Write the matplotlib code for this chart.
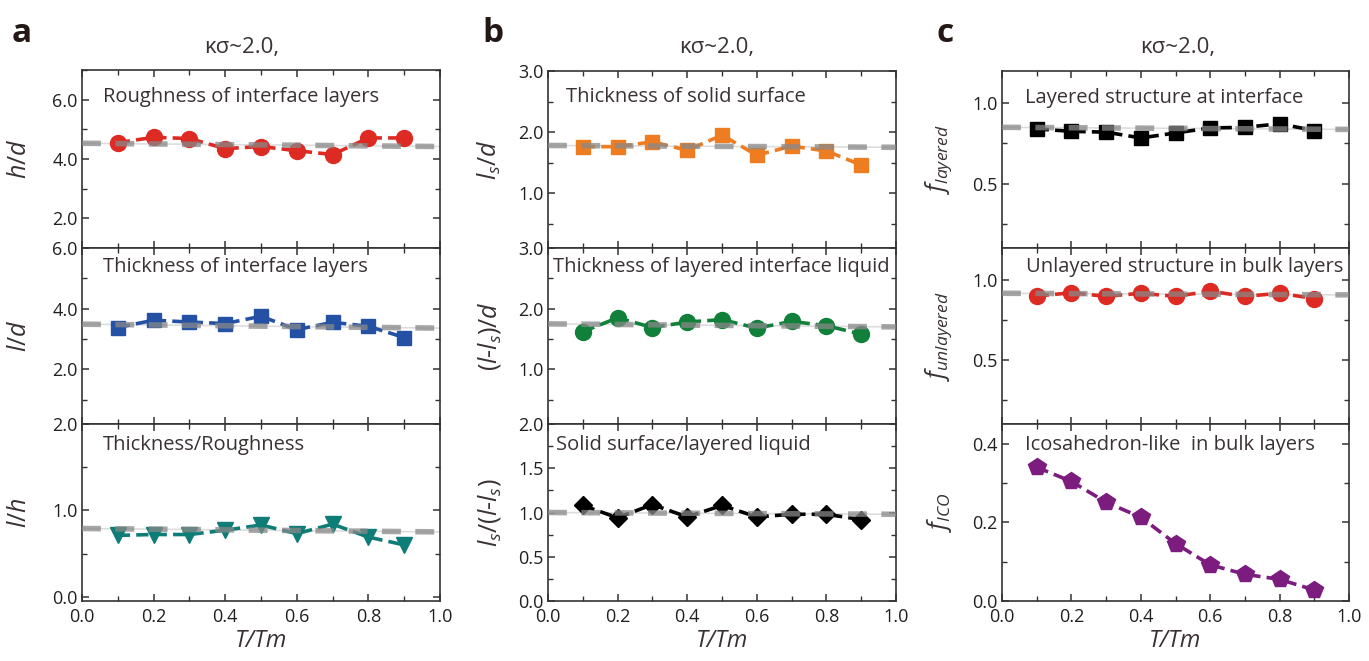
import matplotlib
matplotlib.use("Agg")
import matplotlib.pyplot as plt
from matplotlib.ticker import MultipleLocator, FormatStrFormatter

plt.rcParams['font.family'] = ['Open Sans', 'DejaVu Sans']
plt.rcParams['mathtext.fontset'] = 'custom'
plt.rcParams['mathtext.it'] = 'Open Sans:italic'
plt.rcParams['mathtext.rm'] = 'Open Sans'
plt.rcParams['mathtext.sf'] = 'Open Sans'

# reduced temperature T/Tm
t_ratio = [0.1, 0.2, 0.3, 0.4, 0.5, 0.6, 0.7, 0.8, 0.9]

# column a
h_d = [4.55, 4.73, 4.69, 4.35, 4.42, 4.28, 4.15, 4.71, 4.71]
l_d = [3.38, 3.62, 3.56, 3.51, 3.75, 3.31, 3.55, 3.42, 3.05]
l_h = [0.71, 0.72, 0.72, 0.77, 0.83, 0.73, 0.84, 0.69, 0.60]
# column b
ls_d = [1.76, 1.76, 1.84, 1.70, 1.95, 1.62, 1.77, 1.69, 1.46]
lls_d = [1.62, 1.85, 1.69, 1.78, 1.82, 1.68, 1.79, 1.72, 1.58]
ls_lls = [1.08, 0.94, 1.09, 0.95, 1.08, 0.95, 0.98, 0.98, 0.92]
# column c
f_layered = [0.84, 0.825, 0.82, 0.784, 0.815, 0.846, 0.85, 0.872, 0.83]
f_unlayered = [0.90, 0.92, 0.898, 0.917, 0.898, 0.93, 0.898, 0.917, 0.884]
f_ico = [0.34, 0.304, 0.251, 0.213, 0.146, 0.092, 0.068, 0.055, 0.028]

# linear trend lines, value at T/Tm = 0 and T/Tm = 1
fit_x = [0.0, 1.0]
fit_h_d = [4.53, 4.42]
fit_l_d = [3.49, 3.36]
fit_l_h = [0.79, 0.75]
fit_ls_d = [1.78, 1.75]
fit_lls_d = [1.75, 1.70]
fit_ls_lls = [1.00, 0.98]
fit_layered = [0.85, 0.837]
fit_unlayered = [0.917, 0.907]

TXT = '#3a3232'
W, H = 1369, 661

fig = plt.figure(figsize=(W / 100, H / 100), dpi=100)


def px_axes(x0, x1, y0, y1):
    # axes from pixel box (top-left origin)
    return fig.add_axes([x0 / W, 1 - y1 / H, (x1 - x0) / W, (y1 - y0) / H])


def panel(ax, y, color, marker, ms, ylim, major, minor, ylabel, text, tpos,
          fit=None, bottom=False, lab_x=-0.14):
    ax.plot(t_ratio, y, color=color, marker=marker, ms=ms, lw=2.6,
            ls=(0, (3.4, 1.7)), mec=color, zorder=3)
    if fit is not None:
        ax.plot(fit_x, fit, color='#dddddd', lw=1.2, zorder=2)
        ax.plot(fit_x, fit, color='#888888', lw=4, alpha=0.75,
                ls=(0, (3.4, 2.6)), zorder=4)
    ax.set_xlim(0, 1.0)
    ax.set_ylim(*ylim)
    ax.xaxis.set_major_locator(MultipleLocator(0.2))
    ax.xaxis.set_minor_locator(MultipleLocator(0.1))
    ax.yaxis.set_major_locator(MultipleLocator(major))
    ax.yaxis.set_minor_locator(MultipleLocator(minor))
    ax.yaxis.set_major_formatter(FormatStrFormatter('%.1f'))
    ax.xaxis.set_major_formatter(FormatStrFormatter('%.1f'))
    ax.tick_params(which='both', direction='in', top=True, right=True,
                   colors='#333333', labelcolor='#231f20', labelsize=13)
    ax.tick_params(which='major', length=5, width=1.1)
    ax.tick_params(which='minor', length=3.5, width=1.0)
    ax.tick_params(axis='y', pad=3)
    if not bottom:
        ax.tick_params(axis='x', labelbottom=False)
    else:
        ax.tick_params(axis='x', pad=5)
        ax.set_xlabel('T/Tm', fontsize=17, style='italic', color=TXT, labelpad=2)
    for s in ax.spines.values():
        s.set_linewidth(1.2)
        s.set_color('#333333')
    ax.set_ylabel(ylabel, fontsize=18, color=TXT)
    ax.yaxis.set_label_coords(lab_x, 0.5)
    ax.text(tpos[0], tpos[1], text, transform=ax.transAxes, fontsize=14.5,
            color=TXT, ha='left', va='center', zorder=5)


rows = [(70, 248), (248, 424), (424, 601)]

# column a
xa = (82, 440)
ax = px_axes(xa[0], xa[1], *rows[0])
panel(ax, h_d, '#dd2a22', 'o', 11.5, (1.0, 7.0), 2.0, 1.0, r'$h/d$',
      'Roughness of interface layers', (0.058, 0.85), fit=fit_h_d,
      lab_x=-0.14)
ax = px_axes(xa[0], xa[1], *rows[1])
panel(ax, l_d, '#2451a4', 's', 10.5, (0.2, 6.0), 2.0, 1.0, r'$l/d$',
      'Thickness of interface layers', (0.058, 0.89), fit=fit_l_d,
      lab_x=-0.14)
ax = px_axes(xa[0], xa[1], *rows[2])
panel(ax, l_h, '#0e7d77', 'v', 12, (-0.05, 2.0), 1.0, 0.5, r'$l/h$',
      'Thickness/Roughness', (0.058, 0.88), fit=fit_l_h, bottom=True,
      lab_x=-0.14)

# column b
xb = (548, 896)
ax = px_axes(xb[0], xb[1], 71, rows[0][1])
panel(ax, ls_d, '#ee7d22', 's', 10.5, (0.1, 3.0), 1.0, 0.5, r'$l_s/d$',
      'Thickness of solid surface', (0.052, 0.853), fit=fit_ls_d,
      lab_x=-0.13)
ax = px_axes(xb[0], xb[1], *rows[1])
panel(ax, lls_d, '#11803a', 'o', 11.5, (0.1, 3.0), 1.0, 0.5, r'$(l$-$l_s)/d$',
      'Thickness of layered interface liquid', (0.014, 0.89), fit=fit_lls_d,
      lab_x=-0.13)
ax = px_axes(xb[0], xb[1], *rows[2])
panel(ax, ls_lls, '#000000', 'D', 9.5, (0.0, 2.0), 0.5, 0.25,
      r'$l_s/(l$-$l_s)$', 'Solid surface/layered liquid', (0.023, 0.88),
      fit=fit_ls_lls, bottom=True, lab_x=-0.13)

# column c
xc = (1002, 1349)
ax = px_axes(xc[0], xc[1], 71, rows[0][1])
panel(ax, f_layered, '#000000', 's', 10.5, (0.1, 1.2), 0.5, 0.25,
      r'$f_{layered}$', 'Layered structure at interface', (0.066, 0.85),
      fit=fit_layered, lab_x=-0.137)
ax = px_axes(xc[0], xc[1], *rows[1])
panel(ax, f_unlayered, '#dd2a22', 'o', 11.5, (0.1, 1.2), 0.5, 0.25,
      r'$f_{unlayered}$', 'Unlayered structure in bulk layers', (0.069, 0.89),
      fit=fit_unlayered, lab_x=-0.137)
ax = px_axes(xc[0], xc[1], *rows[2])
panel(ax, f_ico, '#7b1c7e', 'p', 13, (0.0, 0.45), 0.2, 0.1,
      r'$f_{ICO}$', 'Icosahedron-like  in bulk layers', (0.066, 0.88),
      bottom=True, lab_x=-0.137)

# column headers and panel letters
for x in [242, 717, 1178]:
    fig.text(x / W, 1 - 48 / H, 'κσ~2.0,', fontsize=16, color=TXT,
             ha='center', va='center')
for x, letter in [(12, 'a'), (482, 'b'), (937, 'c')]:
    fig.text(x / W, 1 - 42 / H, letter, fontsize=24, fontweight='bold',
             color='#231816', ha='left', va='baseline')

fig.savefig('out.png', dpi=100)
